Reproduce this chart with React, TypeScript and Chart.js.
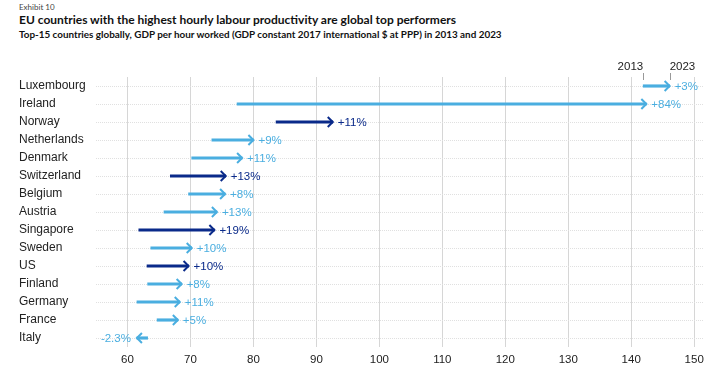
import React, { useEffect, useRef } from "react";
import { Chart, registerables } from "chart.js";

Chart.register(...registerables);

const countries = [
  "Luxembourg", "Ireland", "Norway", "Netherlands", "Denmark", "Switzerland", "Belgium",
  "Austria", "Singapore", "Sweden", "US", "Finland", "Germany", "France", "Italy",
];
const values2013 = [141.9, 77.4, 83.6, 73.4, 70.2, 66.8, 69.7, 65.8, 61.8, 63.7, 63.1, 63.2, 61.5, 64.7, 63.2];
const values2023 = [146.1, 142.4, 92.6, 80.0, 78.2, 75.6, 75.5, 74.2, 73.8, 70.2, 69.7, 68.6, 68.3, 68.0, 61.5];
const changeLabels = ["+3%", "+84%", "+11%", "+9%", "+11%", "+13%", "+8%", "+13%", "+19%", "+10%", "+10%", "+8%", "+11%", "+5%", "-2.3%"];
const isEU = [true, true, false, true, true, false, true, true, false, true, false, true, true, true, true];
const xTicks = [60, 70, 80, 90, 100, 110, 120, 130, 140, 150];
const yearLabels = ["2013", "2023"];

const EU_COLOR = "#4aaee0";
const NON_EU_COLOR = "#0a2a8a";
const colorFor = (i: number) => (isEU[i] ? EU_COLOR : NON_EU_COLOR);
const FONT = "'Liberation Sans', Arial, sans-serif";

const arrowPlugin = {
  id: "arrows",
  afterDatasetsDraw(chart: any) {
    const ctx = chart.ctx;
    const xs = chart.scales.x;
    const ys = chart.scales.y;
    ctx.save();
    countries.forEach((_, i) => {
      const x0 = xs.getPixelForValue(values2013[i]);
      const x1 = xs.getPixelForValue(values2023[i]);
      const y = ys.getPixelForValue(i);
      const dir = x1 >= x0 ? 1 : -1;
      const c = colorFor(i);
      ctx.strokeStyle = c;
      ctx.lineWidth = 2;
      ctx.lineCap = "butt";
      ctx.lineJoin = "miter";
      ctx.beginPath();
      ctx.moveTo(x1 - dir * 5, y - 5);
      ctx.lineTo(x1, y);
      ctx.lineTo(x1 - dir * 5, y + 5);
      ctx.stroke();
      ctx.fillStyle = c;
      ctx.font = "11.5px " + FONT;
      ctx.textBaseline = "middle";
      if (dir > 0) {
        ctx.textAlign = "left";
        ctx.fillText(changeLabels[i], x1 + 5, y + 0.5);
      } else {
        ctx.textAlign = "right";
        ctx.fillText(changeLabels[i], x1 - 6, y + 0.5);
      }
    });
    const y0 = ys.getPixelForValue(0);
    const a = xs.getPixelForValue(values2013[0]);
    const b = xs.getPixelForValue(values2023[0]);
    ctx.strokeStyle = "#999";
    ctx.lineWidth = 1;
    ctx.beginPath();
    ctx.moveTo(Math.round(a) + 0.5, y0 - 13);
    ctx.lineTo(Math.round(a) + 0.5, y0 - 6);
    ctx.moveTo(Math.round(b) + 0.5, y0 - 13);
    ctx.lineTo(Math.round(b) + 0.5, y0 - 6);
    ctx.stroke();
    ctx.fillStyle = "#222";
    ctx.font = "11.5px " + FONT;
    ctx.textBaseline = "middle";
    ctx.textAlign = "right";
    ctx.fillText(yearLabels[0], a, y0 - 19);
    ctx.textAlign = "left";
    ctx.fillText(yearLabels[1], b, y0 - 19);
    ctx.restore();
  },
};

export default function App() {
  const ref = useRef<HTMLCanvasElement | null>(null);
  useEffect(() => {
    if (!ref.current) return;
    const chart = new Chart(ref.current, {
      type: "bar",
      data: {
        labels: countries,
        datasets: [
          {
            data: countries.map((_, i) => [values2013[i], values2023[i]] as any),
            backgroundColor: countries.map((_, i) => colorFor(i)),
            borderWidth: 0,
            barThickness: 2.5,
          },
        ],
      },
      options: {
        indexAxis: "y",
        animation: false,
        responsive: false,
        maintainAspectRatio: false,
        layout: { padding: { left: 19, top: 77, right: 22, bottom: 6 } },
        plugins: { legend: { display: false }, tooltip: { enabled: false } },
        scales: {
          x: {
            type: "linear",
            min: 55,
            max: 151.4,
            afterBuildTicks: (scale: any) => {
              scale.ticks = xTicks.map((v) => ({ value: v }));
            },
            afterFit: (scale: any) => {
              scale.height = 22;
            },
            grid: { color: "#d6d6d6", lineWidth: 1, drawTicks: false },
            border: { display: false },
            ticks: {
              color: "#222",
              font: { family: FONT, size: 11.5 },
              padding: 6,
            },
          },
          y: {
            type: "category",
            afterFit: (scale: any) => {
              scale.width = 77;
            },
            grid: {
              offset: false,
              color: "#e0e0e0",
              lineWidth: 1,
              drawTicks: false,
            },
            border: { display: false, dash: [1, 1] },
            ticks: {
              crossAlign: "far",
              color: "#222",
              font: { family: FONT, size: 12 },
              padding: 4,
            },
          },
        },
      },
      plugins: [arrowPlugin],
    } as any);
    return () => chart.destroy();
  }, []);

  return (
    <div style={{ position: "fixed", left: 0, top: 0, width: 725, height: 375, background: "#fff", overflow: "hidden" }}>
      <div style={{ position: "absolute", left: 19, top: 2, fontFamily: "Lato, 'Open Sans', sans-serif", fontSize: 8, color: "#444", whiteSpace: "nowrap" }}>
        Exhibit 10
      </div>
      <div style={{ position: "absolute", left: 19, top: 12, fontFamily: "Lato, 'Open Sans', sans-serif", fontSize: 12, fontWeight: 700, color: "#111", whiteSpace: "nowrap" }}>
        EU countries with the highest hourly labour productivity are global top performers
      </div>
      <div style={{ position: "absolute", left: 19, top: 28, fontFamily: "Lato, 'Open Sans', sans-serif", fontSize: 9.9, fontWeight: 700, color: "#111", whiteSpace: "nowrap" }}>
        Top-15 countries globally, GDP per hour worked (GDP constant 2017 international $ at PPP) in 2013 and 2023
      </div>
      <canvas ref={ref} width={725} height={375} style={{ position: "absolute", left: 0, top: 0, width: 725, height: 375 }} />
    </div>
  );
}
